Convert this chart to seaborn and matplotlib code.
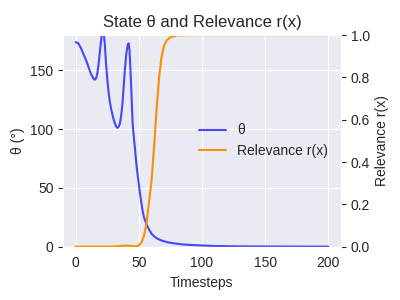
import numpy as np
import pandas as pd
import matplotlib
matplotlib.use("Agg")
import matplotlib.pyplot as plt
import seaborn as sns

# values
t_theta = [0, 2, 4, 6, 8, 10, 12, 14, 15, 16, 17, 18, 19, 20, 21, 21.5, 22, 23, 24, 25,
           26, 27, 28, 30, 32, 33, 34, 35, 36, 37, 38, 39, 40, 41, 41.8, 42.5, 43, 44, 45,
           46, 47, 48, 49, 50, 51, 52, 53, 54, 56, 58, 60, 62, 65, 69, 73, 77, 85, 98,
           110, 130, 160, 200]
theta = [174, 173, 169, 164, 159, 153, 147, 143, 142, 143, 147, 155, 165, 175, 184, 186, 183,
         172, 155, 142, 131, 123, 117, 108, 102, 101, 102, 105, 112, 122, 137, 152, 164, 171,
         173, 168, 158, 133, 105, 93, 82, 70, 61, 53, 44, 37, 30, 25, 19, 14.5, 11, 8.8, 6.5,
         4.8, 3.6, 2.9, 1.8, 1.0, 0.5, 0.2, 0.05, 0]

t_rel = [0, 30, 35, 40, 45, 48, 50, 52, 54, 56, 58, 60, 62, 64, 66, 68, 70, 72, 75, 80, 90, 200]
relevance = [0, 0, 0.003, 0.005, 0.002, 0.002, 0.005, 0.02, 0.05, 0.11, 0.21, 0.31, 0.47,
             0.65, 0.8, 0.9, 0.95, 0.975, 0.99, 0.998, 1.0, 1.0]

sns.set_style("darkgrid")
plt.rcParams['font.family'] = ['Liberation Sans', 'DejaVu Sans']

fig, ax = plt.subplots(figsize=(4, 3), dpi=100)
ax2 = ax.twinx()
ax2.grid(False)

sns.lineplot(x=t_theta, y=theta, ax=ax, color='blue', alpha=0.7, label='θ', legend=False)
sns.lineplot(x=t_rel, y=relevance, ax=ax2, color='darkorange', label='Relevance r(x)', legend=False)

ax.set_xlim(-10, 210)
ax.set_ylim(0, 180)
ax2.set_ylim(0, 1)
ax.set_xticks([0, 50, 100, 150, 200])
ax.set_yticks([0, 50, 100, 150])
ax2.set_yticks([0, 0.2, 0.4, 0.6, 0.8, 1.0])

ax.set_xlabel('Timesteps')
ax.set_ylabel('θ (°)')
ax2.set_ylabel('Relevance r(x)')
ax.set_title('State θ and Relevance r(x)')

h1, l1 = ax.get_legend_handles_labels()
h2, l2 = ax2.get_legend_handles_labels()
ax2.legend(h1 + h2, l1 + l2, loc='center right', frameon=False)

fig.subplots_adjust(left=0.158, right=0.852, bottom=0.178, top=0.883)
fig.savefig('out.png')
